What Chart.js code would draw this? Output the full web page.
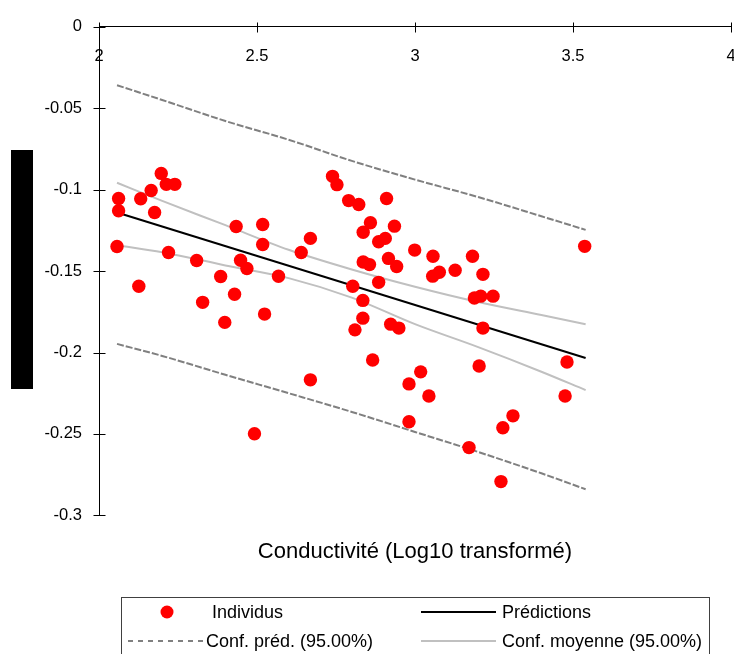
<!DOCTYPE html>
<html lang="fr">
<head>
<meta charset="UTF-8" />
<title>Conductivité (Log10 transformé)</title>
<style>
  body { margin: 0; background: #fff; }
  #wrap { width: 734px; height: 654px; position: relative; }
</style>
</head>
<body>
<div id="wrap"><canvas id="chart"></canvas></div>
<script src="https://cdn.jsdelivr.net/npm/chart.js"></script>
<script>
  // individus (conductivité log10, réponse)
  const xIndividus = [2.062, 2.062, 2.057, 2.132, 2.165, 2.197, 2.213, 2.240, 2.176, 2.126,
    2.220, 2.309, 2.328, 2.385, 2.398, 2.429, 2.434, 2.448, 2.468, 2.492,
    2.518, 2.518, 2.524, 2.568, 2.640, 2.669, 2.669, 2.739, 2.753, 2.790,
    2.822, 2.803, 2.810, 2.836, 2.836, 2.835, 2.835, 2.856, 2.859, 2.866,
    2.885, 2.885, 2.906, 2.910, 2.916, 2.923, 2.935, 2.942, 2.949, 2.981,
    2.981, 2.999, 3.018, 3.044, 3.056, 3.057, 3.077, 3.127, 3.171, 3.182,
    3.188, 3.203, 3.208, 3.215, 3.215, 3.247, 3.272, 3.278, 3.310, 3.475,
    3.481, 3.537];
  const yIndividus = [-0.1054, -0.1129, -0.1349, -0.1056, -0.1005, -0.0900, -0.0967, -0.0967, -0.1140, -0.1593,
    -0.1386, -0.1435, -0.1692, -0.1533, -0.1815, -0.1642, -0.1226, -0.1433, -0.1484, -0.2499,
    -0.1214, -0.1337, -0.1764, -0.1532, -0.1386, -0.1299, -0.2168, -0.0918, -0.0969, -0.1067,
    -0.1091, -0.1593, -0.1861, -0.1261, -0.1444, -0.1680, -0.1789, -0.1460, -0.1203, -0.2046,
    -0.1569, -0.1320, -0.1299, -0.1054, -0.1422, -0.1826, -0.1224, -0.1472, -0.1850, -0.2193,
    -0.2425, -0.1371, -0.2119, -0.2267, -0.1531, -0.1409, -0.1507, -0.1495, -0.2584, -0.1409,
    -0.1665, -0.2083, -0.1654, -0.1520, -0.1850, -0.1654, -0.2793, -0.2462, -0.2389, -0.2267,
    -0.2058, -0.1348];

  // droite de régression
  const xPred = [2.057, 3.540];
  const yPred = [-0.1140, -0.2034];

  // bandes de confiance
  const xBande = [2.057, 2.2, 2.4, 2.6, 2.8, 3.0, 3.2, 3.4, 3.540];
  const yMoyHaut = [-0.0957, -0.1069, -0.1218, -0.1369, -0.1490, -0.1596, -0.1690, -0.1770, -0.1826];
  const yMoyBas = [-0.1341, -0.1384, -0.1465, -0.1543, -0.1663, -0.1826, -0.1967, -0.2118, -0.2231];
  const yPredHaut = [-0.0358, -0.0449, -0.0578, -0.0693, -0.0823, -0.0938, -0.1045, -0.1163, -0.1247];
  const yPredBas = [-0.1947, -0.2021, -0.2137, -0.2250, -0.2365, -0.2488, -0.2611, -0.2742, -0.2840];

  const xTickValues = [2, 2.5, 3, 3.5, 4];
  const xTickLabels = ['2', '2.5', '3', '3.5', '4'];
  const yTickValues = [-0.3, -0.25, -0.2, -0.15, -0.1, -0.05, 0];
  const yTickLabels = ['-0.3', '-0.25', '-0.2', '-0.15', '-0.1', '-0.05', '0'];

  const xTitle = 'Conductivité (Log10 transformé)';
  const FONT = "'Liberation Sans', Arial, sans-serif";

  const pts = (xs, ys) => xs.map((x, i) => ({ x, y: ys[i] }));

  const lineDs = (label, xs, ys, color, dash) => ({
    label, data: pts(xs, ys), showLine: true, pointRadius: 0,
    borderColor: color, backgroundColor: color, borderWidth: 2,
    borderDash: dash || [], cubicInterpolationMode: 'monotone', fill: false
  });

  const datasets = [
    { label: 'Individus', data: pts(xIndividus, yIndividus), pointRadius: 6.7,
      pointBackgroundColor: '#ff0000', pointBorderColor: '#ff0000', pointBorderWidth: 0 },
    lineDs('Prédictions', xPred, yPred, '#000000'),
    lineDs('Conf. moyenne (95.00%)', xBande, yMoyHaut, '#c0c0c0'),
    lineDs('', xBande, yMoyBas, '#c0c0c0'),
    lineDs('Conf. préd. (95.00%)', xBande, yPredHaut, '#808080', [7, 2]),
    lineDs('', xBande, yPredBas, '#808080', [7, 2])
  ];

  // ticks qui croisent les axes, titre X, bloc noir et légende encadrée
  const decor = {
    id: 'decor',
    afterDraw(chart) {
      const ctx = chart.ctx;
      const xs = chart.scales.x, ys = chart.scales.y;
      ctx.save();
      ctx.strokeStyle = '#000';
      ctx.lineWidth = 1;
      const y0 = Math.round(ys.getPixelForValue(0)) + 0.5;
      xTickValues.forEach(v => {
        const px = Math.round(xs.getPixelForValue(v)) + 0.5;
        ctx.beginPath(); ctx.moveTo(px, y0 - 5); ctx.lineTo(px, y0 + 5); ctx.stroke();
      });
      const x0 = Math.round(xs.getPixelForValue(2)) + 0.5;
      yTickValues.forEach(v => {
        const py = Math.round(ys.getPixelForValue(v)) + 0.5;
        ctx.beginPath(); ctx.moveTo(x0 - 6, py); ctx.lineTo(x0 + 6, py); ctx.stroke();
      });

      // titre de l'axe X sous le graphique
      ctx.fillStyle = '#000';
      ctx.font = '22px ' + FONT;
      ctx.textAlign = 'center';
      ctx.textBaseline = 'middle';
      ctx.fillText(xTitle, (xs.left + xs.right) / 2, 552);

      // titre Y masqué
      ctx.fillRect(11, 150, 22, 239);

      // légende
      ctx.strokeStyle = '#404040';
      ctx.strokeRect(121.5, 597.5, 588, 70);
      ctx.font = '18px ' + FONT;
      ctx.textAlign = 'left';
      const ds = chart.data.datasets;
      const items = [
        { d: ds[0], kind: 'point', x1: 167, tx: 212, y: 612 },
        { d: ds[1], kind: 'line', x1: 421, x2: 496, tx: 502, y: 612 },
        { d: ds[4], kind: 'line', x1: 128, x2: 204, tx: 206, y: 641 },
        { d: ds[2], kind: 'line', x1: 421, x2: 496, tx: 502, y: 641 }
      ];
      items.forEach(it => {
        if (it.kind === 'point') {
          ctx.fillStyle = it.d.pointBackgroundColor;
          ctx.beginPath(); ctx.arc(it.x1, it.y, 6.5, 0, Math.PI * 2); ctx.fill();
        } else {
          ctx.strokeStyle = it.d.borderColor;
          ctx.lineWidth = it.d.borderWidth;
          ctx.setLineDash(it.d.borderDash.length ? [5, 5] : []);
          ctx.beginPath(); ctx.moveTo(it.x1, it.y); ctx.lineTo(it.x2, it.y); ctx.stroke();
          ctx.setLineDash([]);
        }
        ctx.fillStyle = '#000';
        ctx.fillText(it.d.label, it.tx, it.y + 1);
      });
      ctx.restore();
    }
  };

  new Chart(document.getElementById('chart'), {
    type: 'scatter',
    data: { datasets },
    plugins: [decor],
    options: {
      responsive: true,
      maintainAspectRatio: false,
      animation: false,
      layout: { autoPadding: false, padding: { top: 25, right: 3, bottom: 138.7, left: 0 } },
      plugins: { legend: { display: false }, tooltip: { enabled: false } },
      scales: {
        x: {
          type: 'linear',
          position: { y: 0 },
          min: 2, max: 4,
          afterBuildTicks: s => { s.ticks = xTickValues.map(v => ({ value: v })); },
          afterFit: s => { s.paddingLeft = 0; s.paddingRight = 0; },
          ticks: {
            callback: (v, i) => xTickLabels[i],
            color: '#000', font: { family: FONT, size: 16.5 },
            padding: 20, maxRotation: 0, autoSkip: false
          },
          grid: { drawOnChartArea: false, drawTicks: false },
          border: { color: '#000', width: 1 }
        },
        y: {
          type: 'linear',
          position: 'left',
          min: -0.3, max: 0,
          afterFit: s => { s.width = 99; },
          afterBuildTicks: s => { s.ticks = yTickValues.map(v => ({ value: v })); },
          ticks: {
            callback: (v, i) => yTickLabels[i],
            color: '#000', font: { family: FONT, size: 16.5 },
            padding: 17, autoSkip: false
          },
          grid: { drawOnChartArea: false, drawTicks: false },
          border: { color: '#000', width: 1 }
        }
      }
    }
  });
</script>
</body>
</html>
